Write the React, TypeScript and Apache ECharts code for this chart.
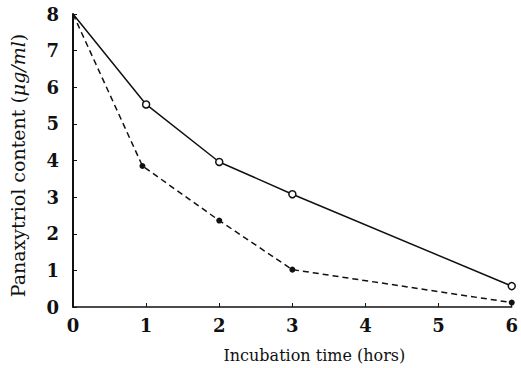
import React, { useEffect, useRef } from "react";
import * as echarts from "echarts";

const hours = [0, 1, 2, 3, 6];
const openSeries = [8.0, 5.53, 3.96, 3.08, 0.57];
const filledHours = [0, 0.95, 2, 3, 6];
const filledSeries = [8.0, 3.85, 2.36, 1.02, 0.12];
const xTicks = [0, 1, 2, 3, 4, 5, 6];
const yTicks = [0, 1, 2, 3, 4, 5, 6, 7, 8];

const FONT = "DejaVu Serif";

export default function App() {
  const ref = useRef<HTMLDivElement>(null);
  useEffect(() => {
    if (!ref.current) return;
    const chart = echarts.init(ref.current, undefined, { renderer: "svg" });
    const pts = (xs: number[], ys: number[]) =>
      xs.map((h, i) => (i === 0 ? { value: [h, ys[i]], symbol: "none" } : { value: [h, ys[i]] }));
    chart.setOption({
      animation: false,
      backgroundColor: "#ffffff",
      grid: { left: 67, right: 7, top: 14, bottom: 58 },
      xAxis: {
        type: "value",
        min: xTicks[0],
        max: xTicks[xTicks.length - 1],
        interval: 1,
        name: "Incubation time (hors)",
        nameLocation: "middle",
        nameGap: 40,
        nameTextStyle: { fontFamily: FONT, fontSize: 16, color: "#111", padding: [0, 0, 0, 44] },
        axisLine: { show: true, lineStyle: { color: "#111", width: 1.5 } },
        axisTick: { show: true, inside: true, length: 4, lineStyle: { color: "#111" } },
        axisLabel: { fontFamily: FONT, fontSize: 18, color: "#111", margin: 9, fontWeight: "bold" },
        splitLine: { show: false },
      },
      yAxis: {
        type: "value",
        min: yTicks[0],
        max: yTicks[yTicks.length - 1],
        interval: 1,
        name: "Panaxytriol content ({i|μg/ml})",
        nameLocation: "middle",
        nameRotate: 90,
        nameGap: 46,
        nameTextStyle: {
          fontFamily: FONT,
          fontSize: 19,
          color: "#111",
          padding: [0, 10, 0, 0],
          rich: { i: { fontFamily: FONT, fontSize: 19, fontStyle: "italic", color: "#111" } },
        },
        axisLine: { show: true, lineStyle: { color: "#111", width: 2 } },
        axisTick: { show: true, inside: true, length: 4, lineStyle: { color: "#111" } },
        axisLabel: { fontFamily: FONT, fontSize: 18, color: "#111", margin: 14, fontWeight: "bold" },
        splitLine: { show: false },
      },
      series: [
        {
          type: "line",
          data: pts(hours, openSeries),
          lineStyle: { color: "#111", width: 1.5, type: "solid" },
          symbol: "circle",
          symbolSize: 7,
          showSymbol: true,
          itemStyle: { color: "#fff", borderColor: "#111", borderWidth: 1.5 },
          z: 3,
        },
        {
          type: "line",
          data: pts(filledHours, filledSeries),
          lineStyle: { color: "#111", width: 1.5, type: [6, 4] },
          symbol: "circle",
          symbolSize: 6,
          showSymbol: true,
          itemStyle: { color: "#111", borderColor: "#111", borderWidth: 0 },
          z: 3,
        },
      ],
    });
    return () => chart.dispose();
  }, []);
  return <div ref={ref} style={{ width: 521, height: 368, position: "absolute", left: 0, top: 0 }} />;
}
